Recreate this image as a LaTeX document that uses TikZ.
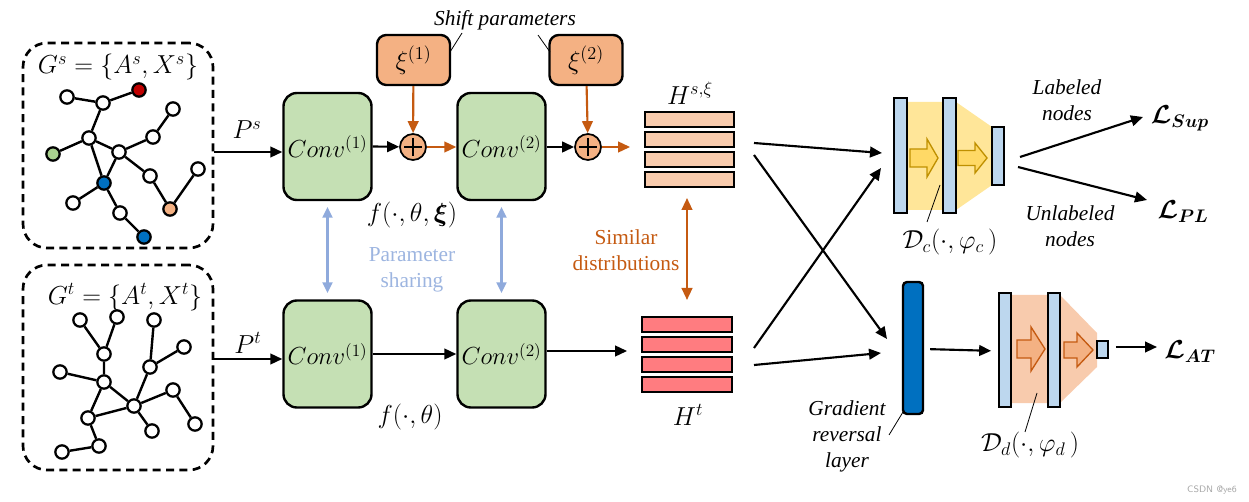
\RequirePackage{fix-cm}
\documentclass[tikz,border=0pt]{standalone}
\usepackage{fontspec}
\setmainfont{Liberation Serif}
\newfontfamily\tnr{Liberation Serif}
\usepackage{amsmath,bm}
\usetikzlibrary{arrows.meta}
\definecolor{cgreen}{HTML}{C5E0B4}
\definecolor{corange}{HTML}{F4B183}
\definecolor{cdark}{HTML}{C55A11}
\definecolor{cpeach}{HTML}{F8CBAD}
\definecolor{csalmon}{HTML}{FF7C80}
\definecolor{clblue}{HTML}{BDD7EE}
\definecolor{cblue}{HTML}{0070C0}
\definecolor{cshare}{HTML}{8FAADC}
\definecolor{csharetxt}{HTML}{9DB5E0}
\definecolor{cyel}{HTML}{FFE699}
\definecolor{cyelarr}{HTML}{FFD966}
\definecolor{cyelbd}{HTML}{BF9000}
\definecolor{cred}{HTML}{C00000}
\definecolor{cgnode}{HTML}{A9D18E}
\newcommand\blkarrow[7]{\draw[#7] (#1,#4-#5) -- (#2,#4-#5) -- (#2,#4-#6) -- (#3,#4) -- (#2,#4+#6) -- (#2,#4+#5) -- (#1,#4+#5) -- cycle;}
\begin{document}
\begin{tikzpicture}[x=0.75pt,y=-0.75pt,
  mfont/.style={font=\fontsize{19.5}{22}\selectfont},
  cfont/.style={font=\fontsize{18.5}{21}\selectfont},
  tfont/.style={font=\tnr\fontsize{16}{19.5}\selectfont},
  itfont/.style={font=\tnr\itshape\fontsize{16}{19.5}\selectfont},
  gn/.style={circle,draw,line width=1.7pt,fill=white,minimum size=10pt,inner sep=0pt},
  gedge/.style={line width=1.8pt},
  gbox/.style={draw,dash pattern=on 6pt off 4pt,line width=2pt,rounded corners=18pt,minimum width=142.5pt,minimum height=153.75pt},
  conv/.style={draw,line width=1.8pt,fill=cgreen,rounded corners=10pt,minimum width=66pt,minimum height=80.25pt,inner sep=0pt,cfont},
  xibox/.style={draw,line width=1.8pt,fill=corange,rounded corners=7pt,minimum width=54.75pt,minimum height=37.5pt,inner sep=0pt,mfont},
  plusc/.style={circle,draw,line width=1.3pt,fill=corange,minimum size=19.5pt,inner sep=0pt},
  arr/.style={line width=1.6pt,-{Triangle[length=9pt,width=8pt]}},
  oarr/.style={arr,draw=cdark},
  sarr/.style={line width=1.6pt,draw=cshare,{Triangle[length=8pt,width=7.5pt]}-{Triangle[length=8pt,width=7.5pt]}},
  darr/.style={line width=1.6pt,draw=cdark,{Triangle[length=9pt,width=8pt]}-{Triangle[length=9pt,width=8pt]}},
  bar/.style={draw,line width=1.8pt,inner sep=0pt},
  hbar/.style={draw,line width=1.8pt},
  callout/.style={line width=0.6pt}
]
\useasboundingbox (0,0) rectangle (1249,502);

% ---------- source graph ----------
\node[gbox] (boxS) at (118,145.5) {};
\node[mfont] (lGs) at (118,67) {$G^s=\{A^s,X^s\}$};
\node[gn] (s1) at (67,97) {};
\node[gn] (s2) at (103,103) {};
\node[gn,fill=cred] (s3) at (139,90) {};
\node[gn] (s4) at (89,138) {};
\node[gn,fill=cgnode] (s5) at (53,154) {};
\node[gn] (s6) at (119,152) {};
\node[gn] (s7) at (153,137) {};
\node[gn] (s8) at (173,109) {};
\node[gn,fill=cblue] (s9) at (104,183) {};
\node[gn] (s10) at (150,176) {};
\node[gn,fill=corange] (s11) at (170,209) {};
\node[gn] (s12) at (198,169) {};
\node[gn] (s13) at (73,203) {};
\node[gn] (s14) at (120,213) {};
\node[gn,fill=cblue] (s15) at (144,237) {};
\draw[gedge] (s1)--(s2) (s2)--(s3) (s2)--(s4) (s4)--(s5) (s4)--(s6) (s4)--(s9)
  (s6)--(s9) (s6)--(s7) (s7)--(s8) (s6)--(s10) (s10)--(s11) (s11)--(s12)
  (s9)--(s13) (s9)--(s14) (s14)--(s15);

% ---------- target graph ----------
\node[gbox] (boxT) at (118,367.5) {};
\node[mfont] (lGt) at (125,297) {$G^t=\{A^t,X^t\}$};
\node[gn] (ta) at (80,320) {};
\node[gn] (tb) at (117,317) {};
\node[gn] (tc) at (104,354) {};
\node[gn] (td) at (154,320) {};
\node[gn] (te) at (184,347) {};
\node[gn] (tf) at (150,367) {};
\node[gn] (tg) at (60,372) {};
\node[gn] (th) at (104,382) {};
\node[gn] (ti) at (134,406) {};
\node[gn] (tj) at (173,390) {};
\node[gn] (tk) at (88,418) {};
\node[gn] (tl) at (152,431) {};
\node[gn] (tm) at (195,424) {};
\node[gn] (tn) at (99,446) {};
\node[gn] (to) at (62,452) {};
\draw[gedge] (ta)--(tc) (tb)--(tc) (tc)--(th) (tg)--(th) (th)--(ti) (th)--(tk)
  (tk)--(ti) (tk)--(tn) (tn)--(to) (ti)--(tf) (tf)--(td) (tf)--(te)
  (ti)--(tj) (tj)--(tm) (ti)--(tl);

% ---------- encoders ----------
\node[conv] (c1s) at (327.5,146.5) {$Conv^{(1)}$};
\node[conv] (c2s) at (501.5,146.5) {$Conv^{(2)}$};
\node[conv] (c1t) at (327.5,354) {$Conv^{(1)}$};
\node[conv] (c2t) at (501.5,354) {$Conv^{(2)}$};

\node[xibox] (xi1) at (413.5,60) {$\xi^{(1)}$};
\node[xibox] (xi2) at (586,60) {$\xi^{(2)}$};
\node[plusc] (p1) at (413,147) {};
\node[plusc] (p2) at (588,147) {};
\draw[line width=1.3pt] (404,147)--(422,147) (413,138)--(413,156);
\draw[line width=1.3pt] (579,147)--(597,147) (588,138)--(588,156);

\node[itfont] (shift) at (505,20) {Shift parameters};
\draw[callout] (462,33)--(450,52);
\draw[callout] (538,35)--(550,52);

\draw[arr] (boxS.east |- 0,152) -- (c1s.west |- 0,152);
\node[mfont] (lPs) at (247,130) {$P^s$};
\draw[arr] (boxT.east |- 0,359) -- (c1t.west |- 0,359);
\node[mfont] (lPt) at (248,343) {$P^t$};

\draw[arr] (c1s.east) -- (p1);
\draw[oarr] (p1) -- (c2s.west |- p1);
\draw[arr] (c2s.east |- p2) -- (p2);
\draw[oarr] (xi1) -- (p1);
\draw[oarr] (xi2) -- (p2);
\draw[arr] (c1t.east) -- (c2t.west);

\node[mfont] (lf1) at (412,215) {$f(\cdot,\theta,\bm{\xi})$};
\node[mfont] (lf2) at (410,417) {$f(\cdot,\theta)$};

\draw[sarr] (c1s.south |- 0,207) -- (c1t.north |- 0,293);
\draw[sarr] (c2s.south |- 0,207) -- (c2t.north |- 0,293);
\node[tfont,text=csharetxt,align=center] (lshare) at (412,270) {Parameter\\sharing};

% ---------- embeddings ----------
\node[minimum width=66.75pt,minimum height=56.25pt,inner sep=0pt] (Hs) at (689.5,149.5) {};
\node[minimum width=67.5pt,minimum height=56.25pt,inner sep=0pt] (Ht) at (687,354.5) {};
\foreach \y in {112,132,152,172} \draw[hbar,fill=cpeach] (645,\y) rectangle (734,\y+15);
\foreach \y in {317,337,357,377} \draw[hbar,fill=csalmon] (642,\y) rectangle (732,\y+15);
\node[mfont] (lHs) at (690,93) {$H^{s,\xi}$};
\node[mfont] (lHt) at (688,415) {$H^{t}$};
\draw[oarr,shorten >=11pt] (p2) -- (Hs.west |- p2);
\draw[arr,shorten >=11pt] (c2t.east |- 0,351) -- (Ht.west |- 0,351);

\draw[darr] (687,198) -- (687,300);
\node[tfont,text=cdark,align=center] (lsim) at (626,250) {Similar\\distributions};

% ---------- classifier ----------
\fill[cyel] (900,102) -- (956,102) -- (992,127) -- (992,185) -- (956,210) -- (900,210) -- cycle;
\node[bar,fill=clblue,minimum width=9.75pt,minimum height=86.25pt] (Dc1) at (900.5,155.5) {};
\node[bar,fill=clblue,minimum width=9.75pt,minimum height=86.25pt] (Dc2) at (949.5,155.5) {};
\node[bar,fill=clblue,minimum width=9pt,minimum height=43.5pt] (Dc3) at (998,156) {};
\blkarrow{910}{927}{938}{158}{9}{19}{fill=cyelarr,draw=cyelbd,line width=1pt}
\blkarrow{958}{975}{987}{158}{7.5}{15}{fill=cyelarr,draw=cyelbd,line width=1pt}
\node[mfont] (lDc) at (950,242) {$\mathcal{D}_c(\cdot,\varphi_c\,)$};
\draw[callout] (940,185)--(927,222);

\coordinate (x1) at (754,143);
\coordinate (x2) at (754,155);
\coordinate (x3) at (754,348);
\coordinate (x4) at (754,365);
\coordinate (y1) at (882,153);
\coordinate (y2) at (887,339);
\coordinate (y3) at (881,168);
\coordinate (y4) at (881,353);
\draw[arr] (x1) -- (y1);
\draw[arr] (x2) -- (y2);
\draw[arr] (x3) -- (y3);
\draw[arr] (x4) -- (y4);

\node[mfont] (Lsup) at (1180,118) {$\bm{\mathcal{L}_{Sup}}$};
\node[mfont] (Lpl) at (1183,212) {$\bm{\mathcal{L}_{PL}}$};
\coordinate (o1) at (1020,157);
\coordinate (o2) at (1018,167);
\coordinate (e1) at (1143,117);
\coordinate (e2) at (1147,200);
\draw[arr] (o1) -- (e1);
\draw[arr] (o2) -- (e2);
\node[itfont,align=center] (lLab) at (1067,100) {Labeled\\nodes};
\node[itfont,align=center] (lUnl) at (1070,226) {Unlabeled\\nodes};

% ---------- domain discriminator ----------
\node[draw,line width=1.8pt,fill=cblue,rounded corners=3pt,minimum width=15pt,minimum height=99pt,inner sep=0pt] (grl) at (913,348) {};
\node[itfont,align=center] (lgrl) at (847,436) {Gradient\\reversal\\layer};
\draw[callout] (889,435)--(903,412);

\fill[cpeach] (1005,295) -- (1060,295) -- (1097,333) -- (1097,367) -- (1060,403) -- (1005,403) -- cycle;
\node[bar,fill=clblue,minimum width=9pt,minimum height=85.5pt] (Dd1) at (1005,350) {};
\node[bar,fill=clblue,minimum width=9pt,minimum height=85.5pt] (Dd2) at (1054,350) {};
\node[bar,fill=clblue,minimum width=8.25pt,minimum height=12.75pt] (Dd3) at (1102.5,349.5) {};
\blkarrow{1017}{1031}{1045}{349}{9}{22}{fill=corange,draw=cdark,line width=1pt}
\blkarrow{1064}{1077}{1093}{350}{8}{17}{fill=corange,draw=cdark,line width=1pt}
\node[mfont] (lDd) at (1030,445) {$\mathcal{D}_d(\cdot,\varphi_d\,)$};
\draw[callout] (1037,393)--(1025,432);

\draw[arr,shorten <=4.5pt,shorten >=5pt] (grl.east |- 0,349) -- (Dd1.west |- 0,351);
\node[mfont] (Lat) at (1190,352) {$\bm{\mathcal{L}_{AT}}$};
\coordinate (at1) at (1157,347);
\draw[arr,shorten <=5pt] (Dd3.east |- 0,347) -- (at1);

\node[font=\sffamily\fontsize{7}{8}\selectfont,text=black!35] (wm) at (1212,490) {CSDN @ye6};
\end{tikzpicture}
\end{document}
